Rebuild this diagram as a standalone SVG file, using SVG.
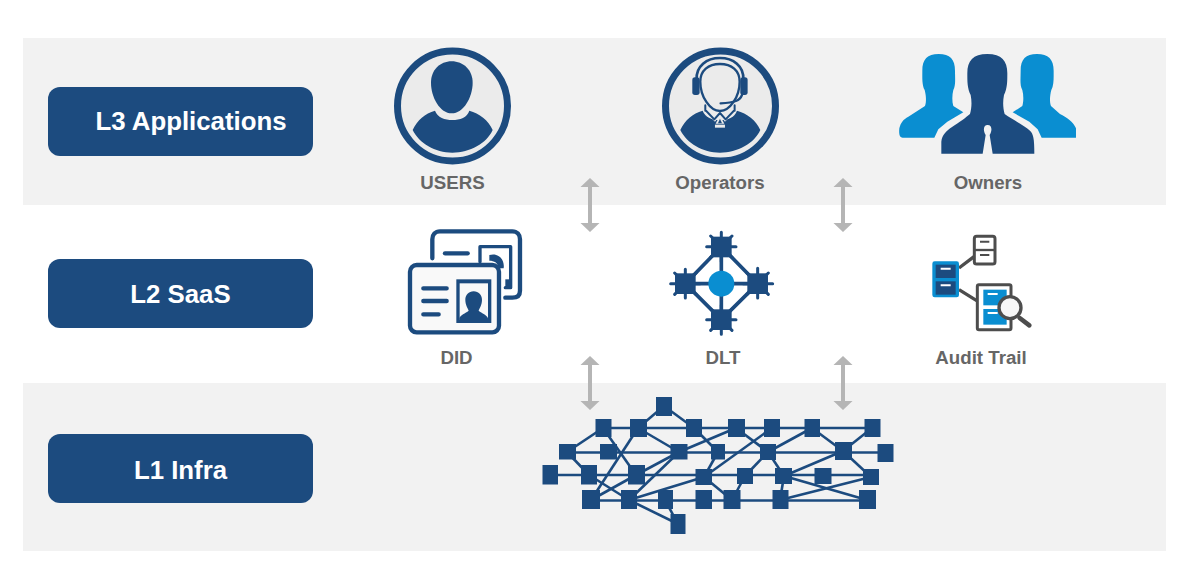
<svg xmlns="http://www.w3.org/2000/svg" width="1193" height="580" viewBox="0 0 1193 580">
<style>
text{font-family:"Liberation Sans",Arial,sans-serif;font-weight:700}
.band{fill:#f2f2f2}
.box{fill:#1c4b7f}
.bl{fill:#fff;font-size:25.800px;text-anchor:middle}
.lb{fill:#666;font-size:18.700px;text-anchor:middle}
.navy{fill:#1c4b7f}
.blue{fill:#0a8ed1}
.light{fill:#ebebeb}
.ring{fill:#ebebeb;stroke:#1c4b7f;stroke-width:7}
.st{fill:none;stroke:#1c4b7f;stroke-linecap:round;stroke-linejoin:round}
.ga{fill:#fff;stroke:#4d4d4d;stroke-linejoin:round}
.arrow{fill:#b5b5b5}
.net line{stroke:#1c4b7f;stroke-width:2.600}
.net rect{fill:#1c4b7f}
</style>
<defs>
<path id="dbl" d="M0 0L9.500 9H2V45H9.500L0 54L-9.500 45H-2V9H-9.500Z"/>
<path id="torso" d="M98 270C112 240 135 220 165 212C172 232 195 240 217 240C240 240 262 232 268 212C298 220 325 240 338 270C320 310 270 338 217 338C165 338 118 310 98 270Z"/>
</defs>

<rect class="band" x="23" y="38" width="1143" height="167"/>
<rect class="band" x="23" y="383" width="1143" height="168"/>

<g id="layer-l3"><rect class="box" x="48" y="87" width="265" height="69" rx="12"/><text class="bl" x="191" y="130">L3 Applications</text></g>
<g id="layer-l2"><rect class="box" x="48" y="259" width="265" height="69" rx="12"/><text class="bl" x="180.500" y="303">L2 SaaS</text></g>
<g id="layer-l1"><rect class="box" x="48" y="434" width="265" height="69" rx="12"/><text class="bl" x="180.500" y="479">L1 Infra</text></g>

<g id="users">
<circle class="ring" cx="452.500" cy="106" r="55"/>
<g transform="translate(380 40) scale(.3333)">
<path class="navy" d="M215 64C250 64 278 90 278 128C278 172 250 220 215 220C180 220 153 172 153 128C153 90 180 64 215 64Z"/>
<use href="#torso" class="navy"/>
</g>
<text class="lb" x="452.500" y="189">USERS</text>
</g>

<g id="operators">
<circle class="ring" cx="720.500" cy="106" r="55"/>
<g transform="translate(380 40) scale(.3333)">
<use href="#torso" class="navy" x="803"/>
<path class="light" d="M972 212L1005 245L1020 226L1035 245L1068 212V190H972Z"/>
<path class="light" d="M1020 226L1007 251H1033Z"/>
<path class="navy" d="M1020 236L1014 250H1026Z"/>
<rect class="light" x="1005" y="254" width="30" height="9"/>
<path class="st" stroke-width="7" d="M961 125C961 92 985 72 1020 72C1055 72 1079 92 1079 125C1079 170 1050 213 1020 213C990 213 961 170 961 125Z"/>
<path class="st" stroke-width="6" d="M976 212V196M1064 212V196M976 210L1003 238L1020 219L1037 238L1064 210"/>
<path class="st" stroke-width="8" d="M950 118C948 78 980 54 1020 54C1060 54 1092 78 1090 118"/>
<rect class="navy" x="937" y="112" width="22" height="53" rx="8"/>
<rect class="navy" x="1081" y="112" width="22" height="53" rx="8"/>
<path class="st" stroke-width="7" d="M1086 165C1080 182 1065 188 1022 190"/>
</g>
<text class="lb" x="720" y="189">Operators</text>
</g>

<g id="owners">
<g transform="translate(890 40) scale(.3333)">
<path class="blue" d="M146 42C180 42 195 58 195 92C195 115 198 135 190 150C186 165 186 185 190 198L220 217L172 245L145 268L133 293H38C30 293 26 285 28 265C32 248 40 238 55 230L105 198C110 185 108 165 104 150C96 135 97 115 97 92C97 58 112 42 146 42Z"/>
<path class="blue" d="M441 42C407 42 392 58 392 92C392 115 389 135 397 150C401 165 401 185 397 198L368 217L418 245L443 268L455 293H558V265C550 245 530 232 510 222L483 198C478 185 480 165 484 150C492 135 491 115 491 92C491 58 475 42 441 42Z"/>
<path class="navy" d="M292 42C335 42 352 62 352 100C352 125 352 145 342 165C338 185 339 205 344 222C370 240 405 258 420 272C430 282 433 295 433 341H308L299 285C306 275 308 255 293 255C278 255 280 275 287 285L278 341H154V305C156 285 170 272 185 262C210 245 225 235 240 222C245 205 246 185 242 165C232 145 232 125 232 100C232 62 249 42 292 42Z"/>
</g>
<text class="lb" x="988" y="189">Owners</text>
</g>

<g id="did">
<g transform="translate(400 220) scale(.3333)">
<path class="st" stroke-width="13" d="M97 115V58C97 44 106 34 120 34H337C351 34 360 44 360 58V212C360 226 351 233 337 233H316"/>
<path class="st" stroke-width="13" d="M135 100H203"/>
<path class="st" stroke-width="10" stroke-linecap="butt" d="M240 125V80H332V203H316"/>
<path class="navy" d="M268 105C295 97 315 118 311 145H293C296 130 285 122 268 122Z"/>
<path class="navy" d="M316 178H334V205H316Z"/>
<rect x="30" y="135" width="267" height="202" rx="20" fill="#f9f9f9" stroke="#1c4b7f" stroke-width="13"/>
<path class="st" stroke-width="13" d="M70 205H140M70 243H140M70 283H116"/>
<rect class="navy" x="169" y="178" width="105" height="131"/>
<rect x="179" y="190" width="85" height="110" fill="#f9f9f9"/>
<path class="navy" d="M221 214C236 214 246 225 246 240C246 255 238 266 236 272C245 280 262 285 264 295V300H178V295C180 285 197 280 206 272C204 266 196 255 196 240C196 225 206 214 221 214Z"/>
</g>
<text class="lb" x="456.500" y="364">DID</text>
</g>

<g id="dlt">
<g transform="translate(660 225) scale(.3333)">
<path class="st" stroke-width="11" d="M184 65L293 176L184 284L76 176ZM76 176H293M184 65V284"/>
<path class="st" stroke-width="9" d="M184 22V110M140 65H228M152 33L216 97M216 33L152 97M76 133V219M32 176H120M44 144L108 208M108 144L44 208M293 130V219M250 176H338M261 144L325 208M325 144L261 208M184 240V328M140 284H228M152 252L216 316M216 252L152 316"/>
<rect class="navy" x="153" y="35" width="62" height="62"/>
<rect class="navy" x="45" y="145" width="62" height="62"/>
<rect class="navy" x="262" y="145" width="62" height="62"/>
<rect class="navy" x="153" y="253" width="62" height="62"/>
<circle class="blue" cx="184" cy="176" r="39"/>
</g>
<text class="lb" x="723" y="364">DLT</text>
</g>

<g id="audit">
<g transform="translate(925 228) scale(.3333)">
<path d="M102 120L148 85M102 185L155 218" stroke="#4d4d4d" stroke-width="10" fill="none"/>
<rect class="ga" stroke-width="9" x="148" y="25" width="62" height="83" rx="7"/>
<path d="M148 66H210" stroke="#4d4d4d" stroke-width="7"/>
<path d="M165 41H193M165 81H193" stroke="#4d4d4d" stroke-width="6"/>
<rect class="blue" x="22" y="100" width="80" height="108" rx="7"/>
<rect class="navy" x="32" y="110" width="60" height="40"/>
<rect class="navy" x="32" y="160" width="60" height="40"/>
<path d="M47 122H77M47 172H77" stroke="#fff" stroke-width="6"/>
<rect class="ga" stroke-width="9" x="157" y="170" width="101" height="135" rx="5"/>
<rect class="blue" x="175" y="185" width="70" height="47"/>
<rect class="blue" x="175" y="243" width="70" height="47"/>
<path d="M188 198H218M188 255H218" stroke="#fff" stroke-width="6"/>
<path d="M284 270L313 292" stroke="#4d4d4d" stroke-width="14" stroke-linecap="round"/>
<circle cx="255" cy="239" r="33" fill="#f6f6f6" stroke="#4d4d4d" stroke-width="10"/>
</g>
<text class="lb" x="981" y="364">Audit Trail</text>
</g>

<g id="connectors">
<use href="#dbl" class="arrow" x="590" y="178"/>
<use href="#dbl" class="arrow" x="843" y="178"/>
<use href="#dbl" class="arrow" x="590" y="356"/>
<use href="#dbl" class="arrow" x="843" y="356"/>
</g>

<g id="network" class="net">
<g>
<line x1="603" y1="428" x2="872" y2="428"/>
<line x1="567" y1="452.500" x2="886" y2="452.500"/>
<line x1="550" y1="475" x2="871" y2="475"/>
<line x1="591" y1="500.500" x2="867" y2="500.500"/>
<line x1="664" y1="406" x2="638" y2="428"/>
<line x1="664" y1="406" x2="694" y2="428"/>
<line x1="603" y1="428" x2="567" y2="452"/>
<line x1="603" y1="428" x2="636" y2="475"/>
<line x1="638" y1="428" x2="679" y2="452"/>
<line x1="638" y1="428" x2="591" y2="500"/>
<line x1="694" y1="428" x2="718" y2="452"/>
<line x1="718" y1="452" x2="704" y2="477"/>
<line x1="567" y1="452" x2="589" y2="475"/>
<line x1="679" y1="452" x2="736" y2="428"/>
<line x1="679" y1="452" x2="636" y2="475"/>
<line x1="679" y1="452" x2="629" y2="500"/>
<line x1="589" y1="475" x2="629" y2="500"/>
<line x1="636" y1="475" x2="591" y2="500"/>
<line x1="704" y1="477" x2="629" y2="500"/>
<line x1="704" y1="477" x2="772" y2="428"/>
<line x1="704" y1="477" x2="732" y2="500"/>
<line x1="736" y1="428" x2="768" y2="452"/>
<line x1="812" y1="428" x2="768" y2="452"/>
<line x1="812" y1="428" x2="843" y2="451"/>
<line x1="872" y1="428" x2="843" y2="451"/>
<line x1="768" y1="452" x2="745" y2="476"/>
<line x1="768" y1="452" x2="784" y2="476"/>
<line x1="843" y1="451" x2="784" y2="476"/>
<line x1="843" y1="451" x2="871" y2="477"/>
<line x1="745" y1="476" x2="732" y2="500"/>
<line x1="784" y1="476" x2="780" y2="500"/>
<line x1="784" y1="476" x2="867" y2="500"/>
<line x1="780" y1="500" x2="871" y2="477"/>
<line x1="629" y1="500" x2="678" y2="524"/>
<line x1="665" y1="500" x2="678" y2="524"/>
</g>
<g>
<rect x="656" y="397" width="16" height="19"/>
<rect x="595.500" y="419" width="16" height="18"/>
<rect x="630" y="419" width="17" height="18"/>
<rect x="686" y="419" width="16" height="18"/>
<rect x="728" y="419" width="17" height="18"/>
<rect x="764" y="419" width="16" height="18"/>
<rect x="804.500" y="419" width="15.500" height="18"/>
<rect x="864.500" y="419" width="16" height="18"/>
<rect x="559" y="444" width="17" height="15.500"/>
<rect x="600" y="444" width="17" height="15.500"/>
<rect x="670.500" y="444" width="17" height="15.500"/>
<rect x="711" y="444" width="14" height="15.500"/>
<rect x="760" y="444" width="16" height="16"/>
<rect x="835" y="442" width="17" height="18"/>
<rect x="877.500" y="444" width="16" height="18"/>
<rect x="542.500" y="465" width="15.500" height="19.500"/>
<rect x="581" y="465" width="16" height="19.500"/>
<rect x="628" y="465" width="17" height="19.500"/>
<rect x="695.500" y="469" width="16.500" height="16"/>
<rect x="737" y="468" width="16" height="16"/>
<rect x="775" y="468" width="17" height="16"/>
<rect x="814.500" y="468" width="17" height="16"/>
<rect x="863" y="469" width="16" height="16"/>
<rect x="582" y="490" width="18" height="19"/>
<rect x="621" y="490" width="16" height="19"/>
<rect x="658" y="490" width="15" height="19"/>
<rect x="695.500" y="490" width="16.500" height="19"/>
<rect x="723.500" y="490" width="17" height="19"/>
<rect x="772.500" y="490" width="16" height="19"/>
<rect x="859" y="490" width="17" height="19"/>
<rect x="670.500" y="514" width="15" height="20"/>
</g>
</g>
</svg>
